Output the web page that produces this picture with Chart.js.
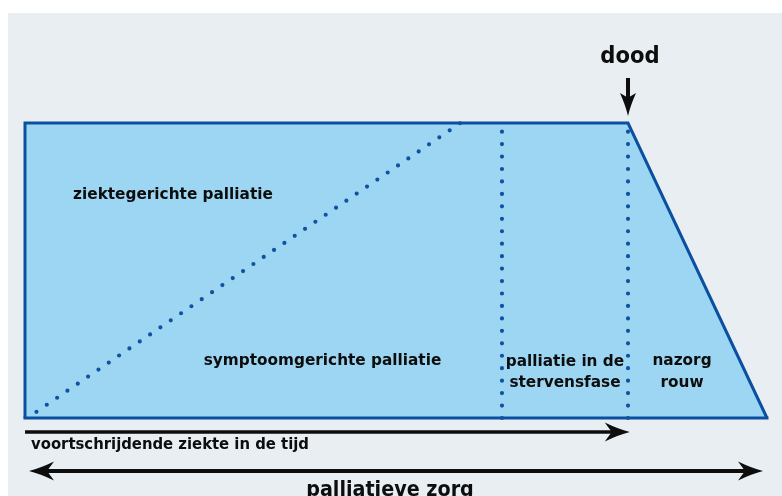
<!DOCTYPE html>
<html>
<head>
<meta charset="utf-8">
<script src="https://cdn.jsdelivr.net/npm/chart.js@4.4.0/dist/chart.umd.min.js"></script>
<style>
  html, body { margin: 0; padding: 0; background: #ffffff; }
  #wrap { width: 782px; height: 496px; }
</style>
</head>
<body>
<div id="wrap"><canvas id="c" width="782" height="496"></canvas></div>
<script>
// x = time (0 = start of illness, 100 = death), y = share of care (0..100)
const phaseX      = [0, 79.1, 100, 123.05];   // start, dying phase, death, end of aftercare
const careLevel   = [0, 100];                 // bottom / top of the care block
const diagonalX   = [1.9, 72.2];              // disease-directed vs symptom-directed divide
const diagonalY   = [2.1, 100];
const timeArrowX  = [0, 98.8];                // voortschrijdende ziekte in de tijd
const timeArrowY  = -4.75;
const careArrowX  = [2.16, 120.9];            // palliatieve zorg (both ways)
const careArrowY  = -18;
const deathArrowY = [115.25, 105.4];          // dood arrow

const labelTexts = ['dood', 'ziektegerichte palliatie', 'symptoomgerichte palliatie',
  'palliatie in de', 'stervensfase', 'nazorg', 'rouw',
  'voortschrijdende ziekte in de tijd', 'palliatieve zorg'];
const labelX = [100.33, 24.54, 49.34, 89.55, 89.55, 108.96, 108.96, 1.0, 60.53];
const labelY = [120.34, 74.24, 17.8, 17.46, 10.34, 17.8, 10.51, -10.51, -26.6];

const FILL = '#9dd6f3', EDGE = '#0b50a0', DOT = '#0f52a2', INK = '#0d0d0d';
const condensed = '"DejaVu Sans Condensed", "Liberation Sans Narrow", sans-serif';
const regular = '"DejaVu Sans", sans-serif';
const labelFont = [
  ['bold 23.5px ' + condensed, 'center', 0],
  ['bold 15.3px ' + regular, 'center', 0],
  ['bold 15.3px ' + regular, 'center', 0],
  ['bold 15.3px ' + regular, 'center', 0],
  ['bold 15.3px ' + regular, 'center', 0],
  ['bold 15.3px ' + regular, 'center', 0],
  ['bold 15.3px ' + regular, 'center', 0],
  ['bold 16.5px ' + condensed, 'left', 0],
  ['bold 21.3px ' + condensed, 'center', 0]
];

const bgPlugin = {
  id: 'bg',
  beforeDraw(chart) {
    const ctx = chart.ctx;
    ctx.save();
    ctx.fillStyle = '#ffffff';
    ctx.fillRect(0, 0, chart.width, chart.height);
    ctx.fillStyle = '#e9eef2';
    ctx.fillRect(8, 13, chart.width - 8, chart.height - 13);
    ctx.restore();
  }
};

const arrowPlugin = {
  id: 'arrowHeads',
  afterDatasetsDraw(chart) {
    const ctx = chart.ctx;
    chart.data.datasets.forEach((ds, i) => {
      if (!ds.arrow) return;
      const pts = chart.getDatasetMeta(i).data;
      const ends = [[pts[pts.length - 1], pts[pts.length - 2]]];
      if (ds.arrow === 'both') ends.push([pts[0], pts[1]]);
      ends.forEach(([end, prev]) => {
        const a = Math.atan2(end.y - prev.y, end.x - prev.x);
        const L = ds.headLength, W = ds.headWidth, R = ds.headReach, N = ds.headNotch;
        ctx.save();
        ctx.translate(end.x, end.y);
        ctx.rotate(a);
        ctx.beginPath();
        ctx.moveTo(R, 0);
        ctx.quadraticCurveTo(R - L * 0.45, -W * 0.3, R - L, -W);
        ctx.lineTo(R - L * N, 0);
        ctx.lineTo(R - L, W);
        ctx.quadraticCurveTo(R - L * 0.45, W * 0.3, R, 0);
        ctx.closePath();
        ctx.fillStyle = ds.borderColor;
        ctx.fill();
        ctx.restore();
      });
    });
  }
};

const textPlugin = {
  id: 'texts',
  afterDatasetsDraw(chart) {
    const ctx = chart.ctx, sx = chart.scales.x, sy = chart.scales.y;
    ctx.save();
    ctx.fillStyle = INK;
    ctx.textBaseline = 'alphabetic';
    labelTexts.forEach((t, i) => {
      const [font, align, spacing] = labelFont[i];
      ctx.font = font;
      ctx.letterSpacing = spacing + 'px';
      ctx.textAlign = align;
      let x = sx.getPixelForValue(labelX[i]);
      if (align === 'center') x += spacing / 2;
      ctx.fillText(t, x, sy.getPixelForValue(labelY[i]));
    });
    ctx.restore();
  }
};

const line = (data, extra) => Object.assign({
  data, showLine: true, pointRadius: 0, pointHoverRadius: 0, tension: 0,
  fill: false, borderJoinStyle: 'miter'
}, extra);

const datasets = [
  // care block (rectangle + aftercare trapezoid)
  line([{x: phaseX[0], y: careLevel[0]}, {x: phaseX[0], y: careLevel[1]},
        {x: phaseX[2], y: careLevel[1]}, {x: phaseX[3], y: careLevel[0]}],
       {borderColor: EDGE, borderWidth: 3, backgroundColor: FILL, fill: 'origin', order: 5}),
  line([{x: phaseX[0], y: careLevel[0]}, {x: phaseX[3], y: careLevel[0]}],
       {borderColor: EDGE, borderWidth: 3, borderCapStyle: 'square', order: 4}),
  // dotted dividers
  line([{x: diagonalX[0], y: diagonalY[0]}, {x: diagonalX[1], y: diagonalY[1]}],
       {borderColor: DOT, borderWidth: 4.2, borderDash: [0, 12.5], borderCapStyle: 'round', order: 3}),
  line([{x: phaseX[1], y: careLevel[0]}, {x: phaseX[1], y: careLevel[1]}],
       {borderColor: DOT, borderWidth: 4.2, borderDash: [0, 12.45], borderCapStyle: 'round', order: 3}),
  line([{x: phaseX[2], y: careLevel[0]}, {x: phaseX[2], y: careLevel[1]}],
       {borderColor: DOT, borderWidth: 4.2, borderDash: [0, 12.45], borderCapStyle: 'round', order: 3}),
  // arrows
  line([{x: timeArrowX[0], y: timeArrowY}, {x: timeArrowX[1], y: timeArrowY}],
       {borderColor: INK, borderWidth: 3.5, borderCapStyle: 'butt', order: 1,
        arrow: 'end', headLength: 25, headWidth: 9.5, headReach: 9, headNotch: 0.72}),
  line([{x: careArrowX[0], y: careArrowY}, {x: careArrowX[1], y: careArrowY}],
       {borderColor: INK, borderWidth: 4, borderCapStyle: 'butt', order: 1,
        arrow: 'both', headLength: 25, headWidth: 9.5, headReach: 9, headNotch: 0.72}),
  line([{x: phaseX[2], y: deathArrowY[0]}, {x: phaseX[2], y: deathArrowY[1]}],
       {borderColor: INK, borderWidth: 4, borderCapStyle: 'butt', order: 1,
        arrow: 'end', headLength: 23, headWidth: 8, headReach: 9, headNotch: 0.8})
];

new Chart(document.getElementById('c'), {
  type: 'scatter',
  data: { datasets },
  options: {
    responsive: false,
    animation: false,
    events: [],
    devicePixelRatio: 1,
    layout: { padding: 0 },
    plugins: { legend: { display: false }, tooltip: { enabled: false } },
    scales: {
      x: { type: 'linear', min: -4.146, max: 125.54, display: false },
      y: { type: 'linear', min: -26.44, max: 141.69, display: false }
    }
  },
  plugins: [bgPlugin, arrowPlugin, textPlugin]
});
</script>
</body>
</html>
